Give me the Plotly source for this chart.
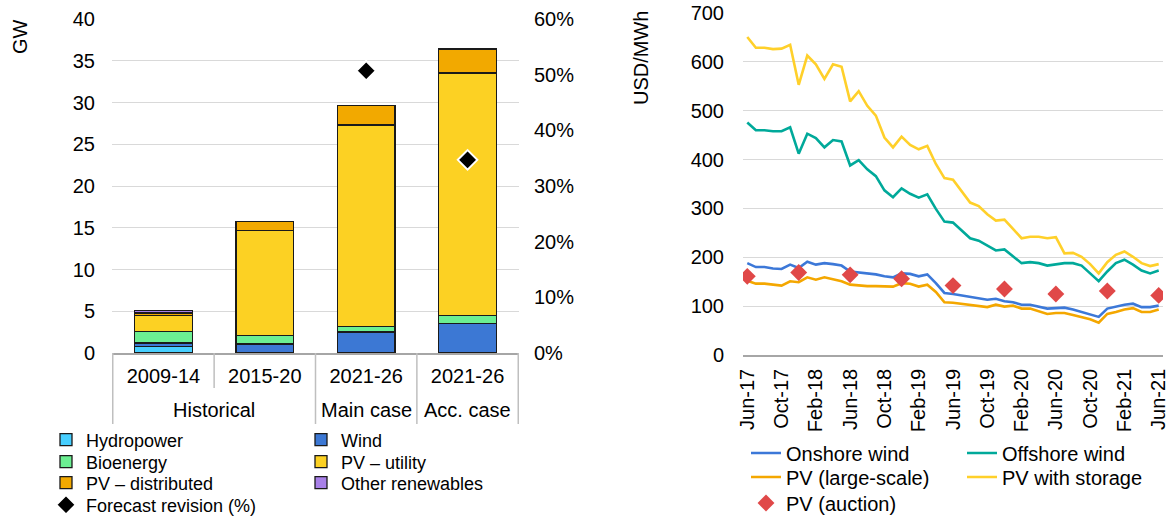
import plotly.graph_objects as go

# ---------------- Left chart data ----------------
groups = ["Historical", "Main case", "Acc. case"]
group_members = [2, 1, 1]
categories = ["Historical 2009-14", "Historical 2015-20", "Main case 2021-26", "Acc. case 2021-26"]
periods = ["2009-14", "2015-20", "2021-26", "2021-26"]
hydropower = [0.8, None, None, None]
wind = [0.4, 1.08, 2.52, 3.52]
bioenergy = [1.4, 1.04, 0.68, 1.0]
pv_utility = [1.87, 12.53, 24.1, 29.0]
pv_distributed = [0.33, 1.07, 2.3, 2.9]
other_renewables = [0.27, None, None, None]
forecast_revision = [None, None, 50.7, 34.7]

gw_ticks = [0, 5, 10, 15, 20, 25, 30, 35, 40]
pct_ticks = [0, 10, 20, 30, 40, 50, 60]
pct_labels = ["0%", "10%", "20%", "30%", "40%", "50%", "60%"]

# ---------------- Right chart data ----------------
months = ["Jun-17", "Jul-17", "Aug-17", "Sep-17", "Oct-17", "Nov-17", "Dec-17",
          "Jan-18", "Feb-18", "Mar-18", "Apr-18", "May-18", "Jun-18", "Jul-18",
          "Aug-18", "Sep-18", "Oct-18", "Nov-18", "Dec-18", "Jan-19", "Feb-19",
          "Mar-19", "Apr-19", "May-19", "Jun-19", "Jul-19", "Aug-19", "Sep-19",
          "Oct-19", "Nov-19", "Dec-19", "Jan-20", "Feb-20", "Mar-20", "Apr-20",
          "May-20", "Jun-20", "Jul-20", "Aug-20", "Sep-20", "Oct-20", "Nov-20",
          "Dec-20", "Jan-21", "Feb-21", "Mar-21", "Apr-21", "May-21", "Jun-21"]
month_ticks = ["Jun-17", "Oct-17", "Feb-18", "Jun-18", "Oct-18", "Feb-19", "Jun-19",
               "Oct-19", "Feb-20", "Jun-20", "Oct-20", "Feb-21", "Jun-21"]
usd_ticks = [0, 100, 200, 300, 400, 500, 600, 700]

onshore_wind = [188, 180, 180, 177, 176, 185, 178, 191, 185, 188, 186, 183, 171, 169,
                167, 165, 161, 159, 167, 166, 161, 165, 147, 127, 125, 122, 118, 116,
                113, 115, 110, 108, 103, 103, 99, 95, 96, 97, 93, 88, 83, 78, 95, 99,
                103, 105, 98, 98, 101]
offshore_wind = [476, 460, 460, 458, 458, 466, 412, 453, 444, 425, 440, 437, 388, 399,
                 380, 366, 337, 323, 341, 330, 322, 329, 299, 273, 271, 254, 239, 234,
                 224, 214, 216, 201, 188, 190, 188, 183, 186, 188, 188, 183, 167, 151,
                 171, 188, 195, 185, 173, 167, 173]
pv_large_scale = [152, 146, 146, 144, 142, 151, 149, 159, 154, 159, 155, 151, 144, 142,
                  141, 141, 140, 140, 147, 146, 140, 144, 129, 108, 107, 105, 103, 101,
                  98, 103, 99, 101, 95, 95, 90, 84, 86, 86, 82, 78, 73, 66, 84, 88, 93,
                  96, 88, 88, 93]
pv_with_storage = [651, 629, 629, 626, 627, 635, 553, 613, 595, 565, 595, 590, 519, 540,
                   510, 490, 445, 425, 447, 430, 421, 428, 391, 362, 359, 336, 312, 305,
                   288, 275, 277, 258, 239, 242, 242, 239, 241, 208, 209, 201, 186, 167,
                   190, 205, 212, 201, 188, 182, 186]
auction_months = ["Jun-17", "Dec-17", "Jun-18", "Dec-18", "Jun-19", "Dec-19", "Jun-20",
                  "Dec-20", "Jun-21"]
pv_auction = [161, 169, 164, 156, 142, 135, 125, 131, 122]

FONT = "Liberation Sans, Arial, sans-serif"
W, H = 1169, 517

fig = go.Figure()

bar_series = [
    ("Hydropower", hydropower, "#47CFFF", "legend"),
    ("Wind", wind, "#3C78D4", "legend"),
    ("Bioenergy", bioenergy, "#6CEF92", "legend2"),
    ("PV \u2013 utility", pv_utility, "#FCD123", "legend2"),
    ("PV \u2013 distributed", pv_distributed, "#F2A900", "legend3"),
    ("Other renewables", other_renewables, "#A880E8", "legend3"),
]
for name, vals, col, lg in bar_series:
    fig.add_trace(go.Bar(
        x=categories, y=vals, name=name,
        marker=dict(color=col, line=dict(color="#1a1a1a", width=1.3)),
        xaxis="x", yaxis="y", legend=lg, hoverinfo="skip"))

fig.add_trace(go.Scatter(
    x=categories, y=forecast_revision, name="Forecast revision (%)", mode="markers",
    marker=dict(symbol="diamond", size=15, color="black", line=dict(color="white", width=2)),
    xaxis="x", yaxis="y2", legend="legend4"))

line_series = [
    ("Onshore wind", onshore_wind, "#3C78D8", "legend5"),
    ("Offshore wind", offshore_wind, "#00A99A", "legend5"),
    ("PV (large-scale)", pv_large_scale, "#F4A700", "legend6"),
    ("PV with storage", pv_with_storage, "#FFD02A", "legend6"),
]
for name, vals, col, lg in line_series:
    fig.add_trace(go.Scatter(
        x=months, y=vals, name=name, mode="lines", line=dict(color=col, width=2.6),
        xaxis="x2", yaxis="y3", legend=lg))

fig.add_trace(go.Scatter(
    x=auction_months, y=pv_auction, name="PV (auction)", mode="markers",
    marker=dict(symbol="diamond", size=13, color="#E04848"),
    xaxis="x2", yaxis="y3", legend="legend7"))

# domains from pixel positions
lx0, lx1 = 112 / W, 519 / W
ly0, ly1 = 1 - 353 / H, 1 - 19 / H
rx0, rx1 = 743 / W, 1163 / W
ry0, ry1 = 1 - 355 / H, 1 - 13 / H

tickfont = dict(family=FONT, size=20, color="black")
grid = "#D9D9D9"
divider = dict(color="#BFBFBF", width=1.5)


def legend_row(x_px, y_px, entrywidth, size):
    return dict(x=x_px / W, y=1 - y_px / H, xanchor="left", yanchor="middle",
                orientation="h", entrywidth=entrywidth, entrywidthmode="pixels",
                font=dict(family=FONT, size=size, color="black"),
                bgcolor="rgba(0,0,0,0)", borderwidth=0, traceorder="normal",
                itemclick=False, itemdoubleclick=False)


# group labels and divider lines of the category table under the left chart
annotations = []
shapes = []
start = 0
for g, n in zip(groups, group_members):
    annotations.append(dict(text=g, x=start + (n - 1) / 2, xref="x", y=1 - 410 / H, yref="paper",
                            xanchor="center", yanchor="middle", showarrow=False,
                            font=dict(family=FONT, size=20, color="black")))
    shapes.append(dict(type="line", xref="x", yref="paper", x0=start - 0.5, x1=start - 0.5,
                       y0=ly0, y1=1 - 424 / H, line=divider))
    for k in range(1, n):
        shapes.append(dict(type="line", xref="x", yref="paper",
                           x0=start + k - 0.5, x1=start + k - 0.5,
                           y0=ly0, y1=1 - 388 / H, line=divider))
    start += n
shapes.append(dict(type="line", xref="x", yref="paper", x0=start - 0.5, x1=start - 0.5,
                   y0=ly0, y1=1 - 424 / H, line=divider))

annotations += [
    dict(text="GW", x=20 / W, y=1 - 37 / H, xref="paper", yref="paper",
         xanchor="center", yanchor="middle",
         showarrow=False, textangle=-90, font=dict(family=FONT, size=20, color="black")),
    dict(text="USD/MWh", x=641 / W, y=1 - 58 / H, xref="paper", yref="paper",
         xanchor="center", yanchor="middle",
         showarrow=False, textangle=-90, font=dict(family=FONT, size=20, color="black")),
]

fig.update_layout(
    width=W, height=H, margin=dict(l=0, r=0, t=0, b=0, autoexpand=False),
    paper_bgcolor="white", plot_bgcolor="white",
    barmode="stack", bargap=0.43,
    font=dict(family=FONT, size=20, color="black"),
    showlegend=True,
    xaxis=dict(domain=[lx0, lx1], anchor="y", type="category",
               categoryorder="array", categoryarray=categories,
               tickmode="array", tickvals=categories, ticktext=periods,
               tickfont=tickfont, showline=True, linecolor="#A6A6A6", linewidth=1.5,
               ticks="", showgrid=False, automargin=False, ticklabelstandoff=4),
    yaxis=dict(domain=[ly0, ly1], anchor="x", range=[0, 40], tickvals=gw_ticks,
               tickfont=tickfont, showgrid=True, gridcolor=grid, gridwidth=1.3,
               zeroline=False, showline=False, ticklabelstandoff=16, automargin=False),
    yaxis2=dict(domain=[ly0, ly1], anchor="x", overlaying="y", side="right",
                range=[0, 60], tickmode="array", tickvals=pct_ticks, ticktext=pct_labels,
                tickfont=tickfont, showgrid=False, zeroline=False,
                ticklabelstandoff=14, automargin=False),
    xaxis2=dict(domain=[rx0, rx1], anchor="y3", type="category",
                categoryorder="array", categoryarray=months,
                range=[-0.5, len(months) - 0.5], tickvals=month_ticks, tickangle=-90,
                tickfont=tickfont, showline=True, linecolor="#A6A6A6", linewidth=1.5,
                showgrid=False, ticks="", ticklabelstandoff=4, automargin=False),
    yaxis3=dict(domain=[ry0, ry1], anchor="x2", range=[0, 700], tickvals=usd_ticks,
                tickfont=tickfont, showgrid=True, gridcolor=grid, gridwidth=1.3,
                zeroline=False, showline=False, ticklabelstandoff=18, automargin=False),
    legend=legend_row(46, 440, 210, 18),
    legend2=legend_row(46, 462, 210, 18),
    legend3=legend_row(46, 483, 210, 18),
    legend4=legend_row(46, 505, 210, 18),
    legend5=legend_row(746, 453, 171, 20),
    legend6=legend_row(746, 477, 171, 20),
    legend7=legend_row(746, 503, 171, 20),
    annotations=annotations,
    shapes=shapes,
)

fig.write_html("out.html", config={"displayModeBar": False},
               post_script="document.body.style.margin='0px';")
